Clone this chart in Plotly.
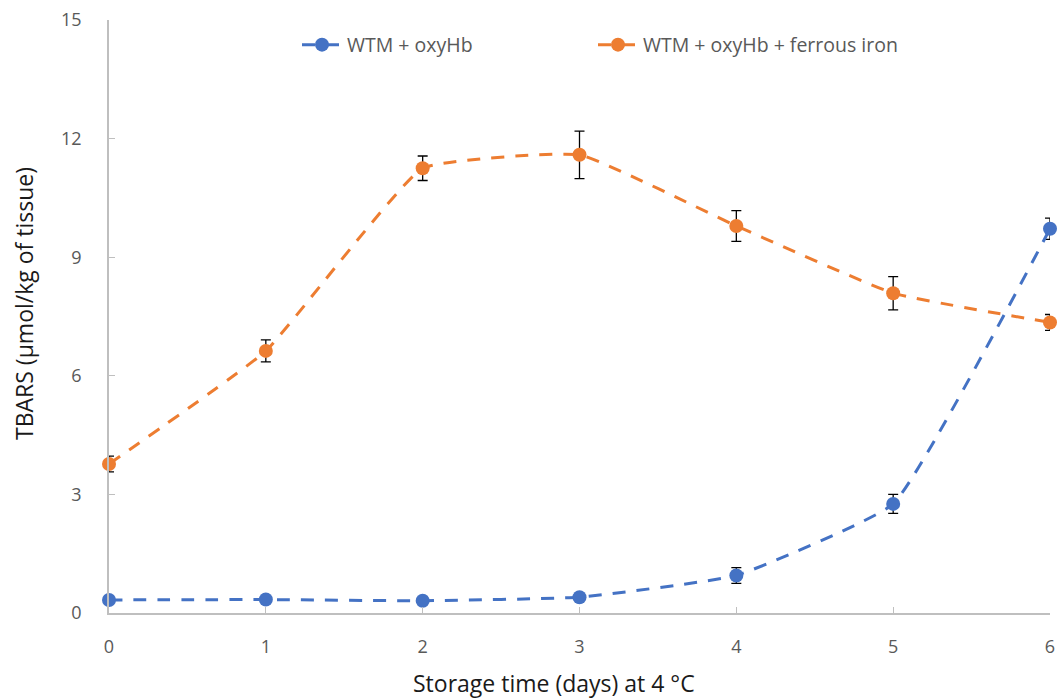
import plotly.graph_objects as go

days = [0, 1, 2, 3, 4, 5, 6]
oxyhb = [0.33, 0.34, 0.31, 0.40, 0.95, 2.76, 9.72]
oxyhb_err = [0.06, 0.06, 0.06, 0.08, 0.20, 0.24, 0.27]
ferrous = [3.77, 6.63, 11.25, 11.59, 9.79, 8.09, 7.35]
ferrous_err = [0.20, 0.28, 0.31, 0.60, 0.39, 0.42, 0.20]
y_ticks = [0, 3, 6, 9, 12, 15]

names = ["WTM + oxyHb", "WTM + oxyHb + ferrous iron"]
colors = ["#4472C4", "#ED7D31"]
x_title = "Storage time (days) at 4 °C"
y_title = "TBARS (µmol/kg of tissue)"

W, H = 1057, 699
L, R, T, B = 109, 7, 20, 86
pw, ph = W - L - R, H - T - B

fig = go.Figure()
for name, vals, errs, col, leg in [(names[0], oxyhb, oxyhb_err, colors[0], "legend"),
                                   (names[1], ferrous, ferrous_err, colors[1], "legend2")]:
    fig.add_trace(go.Scatter(
        x=days, y=vals, name=name, mode="lines+markers", legend=leg,
        line=dict(color=col, width=3, dash="13px,11px", shape="spline", smoothing=0.35),
        marker=dict(color=col, size=14),
        error_y=dict(type="data", array=errs, visible=True, color="black",
                     thickness=1.3, width=5),
        cliponaxis=False,
    ))

leg_common = dict(orientation="h", y=(H - B - 45) / ph, yanchor="middle", xanchor="left",
                  font=dict(size=19.5, color="#595959"), itemwidth=40,
                  bgcolor="rgba(0,0,0,0)")

fig.update_layout(
    width=W, height=H,
    paper_bgcolor="white", plot_bgcolor="white",
    margin=dict(l=L, r=R, t=T, b=B, autoexpand=False),
    font=dict(family="Open Sans, Liberation Sans, sans-serif", color="#595959", size=15),
    showlegend=True,
    legend=dict(x=(297 - L) / pw, **leg_common),
    legend2=dict(x=(593 - L) / pw, **leg_common),
    xaxis=dict(range=[0, 6], tickvals=days, ticktext=[str(d) for d in days],
               showgrid=False, zeroline=False, showline=True, linecolor="#BFBFBF",
               linewidth=1.5, ticks="inside", ticklen=6, tickcolor="#BFBFBF",
               tickfont=dict(size=18, color="#595959"), ticklabelstandoff=17,
               ticklabeloverflow="allow", automargin=False),
    yaxis=dict(range=[0, 15], tickvals=y_ticks,
               showgrid=False, zeroline=False, showline=True, linecolor="#BFBFBF",
               linewidth=1.5, ticks="inside", ticklen=6, tickcolor="#BFBFBF",
               tickfont=dict(size=18, color="#595959"), ticklabelstandoff=22,
               ticklabeloverflow="allow", automargin=False),
    annotations=[
        dict(text=x_title, xref="paper", yref="paper",
             x=(554 - L) / pw, y=(H - B - 683) / ph, xanchor="center", yanchor="middle",
             showarrow=False, font=dict(size=23, color="#1a1a1a")),
        dict(text=y_title, xref="paper", yref="paper", textangle=-90,
             x=(24 - L) / pw, y=(H - B - 304) / ph, xanchor="center", yanchor="middle",
             showarrow=False, font=dict(size=23, color="#1a1a1a")),
    ],
)

fig.write_html("out.html", config={"displayModeBar": False},
               post_script="document.body.style.margin='0';")
